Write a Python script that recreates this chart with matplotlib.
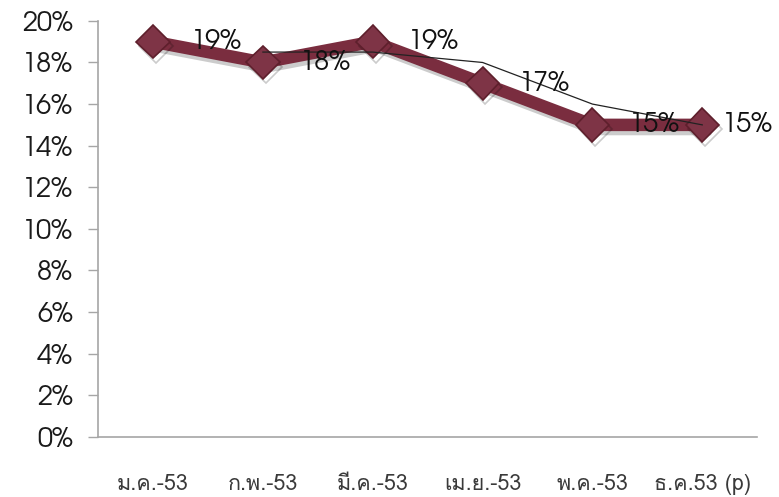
import matplotlib
matplotlib.use('Agg')
import matplotlib.pyplot as plt
import matplotlib.patheffects as pe
from matplotlib import font_manager as fm
from matplotlib.ticker import FuncFormatter

months = ['ม.ค.-53', 'ก.พ.-53', 'มี.ค.-53', 'เม.ย.-53', 'พ.ค.-53', 'ธ.ค.53 (p)']
rates = [19, 18, 19, 17, 15, 15]
# two-period moving average trendline, starts at the second month
trend_x = [1, 2, 3, 4, 5]
trend = [18.5, 18.5, 18, 16, 15]
yticks = list(range(0, 21, 2))


def pick(*names):
    have = {f.name for f in fm.fontManager.ttflist}
    for n in names:
        if n in have:
            return n
    return 'DejaVu Sans'


num_font = pick('Century Gothic', 'TeX Gyre Adventor', 'URW Gothic', 'Questrial',
                'Didact Gothic', 'DejaVu Sans')
thai_font = pick('Loma', 'Noto Sans Thai Looped', 'Noto Sans Thai')

fig = plt.figure(figsize=(7.79, 4.97), dpi=100)
ax = fig.add_axes([0.126, 0.121, 0.846, 0.837])

x = list(range(len(months)))
ax.plot(x, rates, color='#7a2d3f', lw=9, marker='D', ms=17,
        mfc='#7e3446', mec='#5e1f2c', mew=1.2, solid_joinstyle='miter',
        path_effects=[pe.SimpleLineShadow(offset=(2, -3), alpha=0.2), pe.Normal()],
        zorder=3)
ax.plot(trend_x, trend, color='#222222', lw=0.9, zorder=4)

# data labels sit to the right of each point; the last one is squeezed by the edge
offsets = [38, 37, 35, 36, 36, 20]
for xi, v, dx in zip(x, rates, offsets):
    ax.annotate(f'{v}%', (xi, v), xytext=(dx, 0), textcoords='offset pixels',
                ha='left', va='center', fontsize=19.5, family=num_font,
                color='#111111', zorder=5, annotation_clip=False)

ax.set_xlim(-0.5, len(months) - 0.5)
ax.set_ylim(0, 20)
ax.set_yticks(yticks)
ax.yaxis.set_major_formatter(FuncFormatter(lambda v, p: f'{v:.0f}%'))
ax.set_xticks(x)
ax.set_xticklabels(months, family=thai_font, fontsize=15.5, color='#3a3a3a')
for lab in ax.get_yticklabels():
    lab.set_family(num_font)
    lab.set_fontsize(19.5)
    lab.set_color('#1a1a1a')

ax.tick_params(axis='y', length=7, width=1, color='#a6a6a6', pad=11)
ax.tick_params(axis='x', length=0, pad=27)
for s in ['top', 'right']:
    ax.spines[s].set_visible(False)
for s in ['left', 'bottom']:
    ax.spines[s].set_color('#a6a6a6')
    ax.spines[s].set_linewidth(1.2)

fig.savefig('out.png')
